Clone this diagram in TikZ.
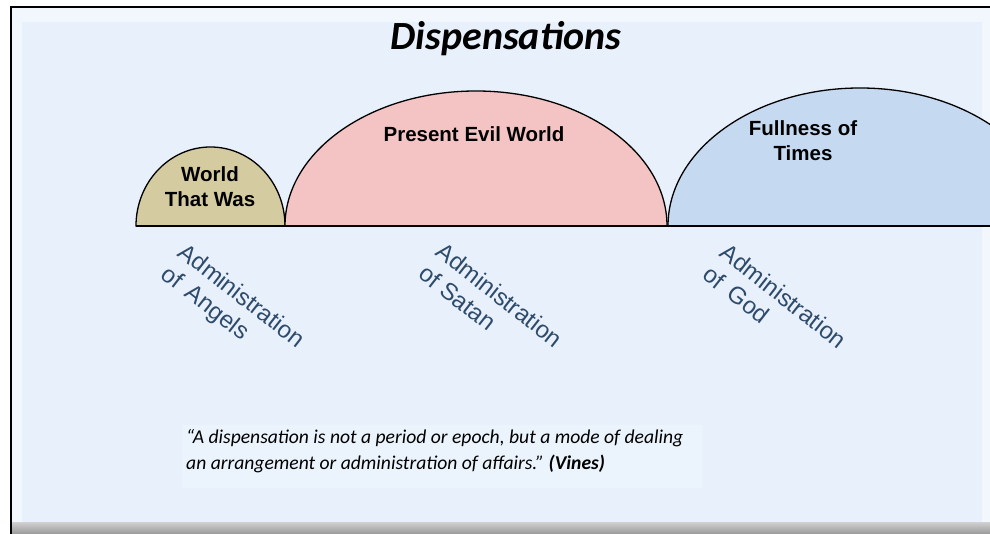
\documentclass[tikz,border=0pt]{standalone}
\usepackage{fontspec}
\setmainfont{Liberation Sans}
\newfontfamily\calib{Carlito}
\definecolor{panel}{HTML}{E8F1FB}
\definecolor{panelhi}{HTML}{F2F7FD}
\definecolor{beige}{HTML}{D5CBA1}
\definecolor{pinkfill}{HTML}{F4C4C4}
\definecolor{bluefill}{HTML}{C5D9F0}
\definecolor{labelblue}{HTML}{2F4B6C}
\definecolor{quotebg}{HTML}{EBF3FC}
\begin{document}
\frenchspacing
\begin{tikzpicture}[x=1pt,y=1pt,
  arcline/.style={draw=black,line width=1.3pt},
  bump/.style={font=\bfseries\fontsize{20.5}{25}\selectfont,align=center,text=black},
  admin/.style={font=\fontsize{24}{28}\selectfont,text=labelblue,align=left,rotate=-38},
  quote/.style={font=\calib\itshape\fontsize{19.6}{26.5}\selectfont,align=left,text=black,anchor=north west,inner sep=0pt}]
\useasboundingbox (0,0) rectangle (990,534);
\fill[white] (0,0) rectangle (990,534);
% panel with bevel
\fill[panelhi] (11,0) rectangle (990,527);
\fill[panel] (22,11) -- (22,512) -- (982,512) -- (982,11) -- cycle;
\shade[top color=gray!40,bottom color=gray!80] (11,0) rectangle (990,11);
\draw[black,line width=1.6pt] (11,0) -- (11,527) -- (990,527);
% quote background
\fill[quotebg] (182,46) rectangle (702,109);
% title
\node (title) [font=\calib\bfseries\itshape\fontsize{40}{46}\selectfont] at (506,495) {Dispensations};
% arcs
\begin{scope}
\clip (0,0) rectangle (990,534);
\draw[arcline,fill=beige] (136,308) arc[start angle=180,end angle=0,x radius=74.5,y radius=79] -- cycle;
\draw[arcline,fill=pinkfill] (285,308) arc[start angle=180,end angle=0,x radius=191,y radius=135] -- cycle;
\draw[arcline,fill=bluefill] (668,308) arc[start angle=180,end angle=0,x radius=192,y radius=138] -- cycle;
\coordinate (bl) at (136,308);
\coordinate (br) at (990,308);
\draw[arcline] (bl) -- (br);
\end{scope}
% bump labels
\node (w1) [bump] at (210,347) {World\\That Was};
\node (w2) [bump] at (474,400) {Present Evil World};
\node (w3) [bump] at (803,393) {Fullness of\\Times};
% administrations
\node (a1) [admin] at (232,226) {Administration\\of\, Angels};
\node (a2) [admin] at (491,228) {Administration\\of Satan};
\node (a3) [admin] at (775,227) {Administration\\of\, God};
% quote
\node (q) [quote] at (186,105) {“A dispensation is not a period or epoch, but a mode of dealing\\an arrangement or administration of affairs.” {\bfseries(Vines)}};
\end{tikzpicture}
\end{document}
